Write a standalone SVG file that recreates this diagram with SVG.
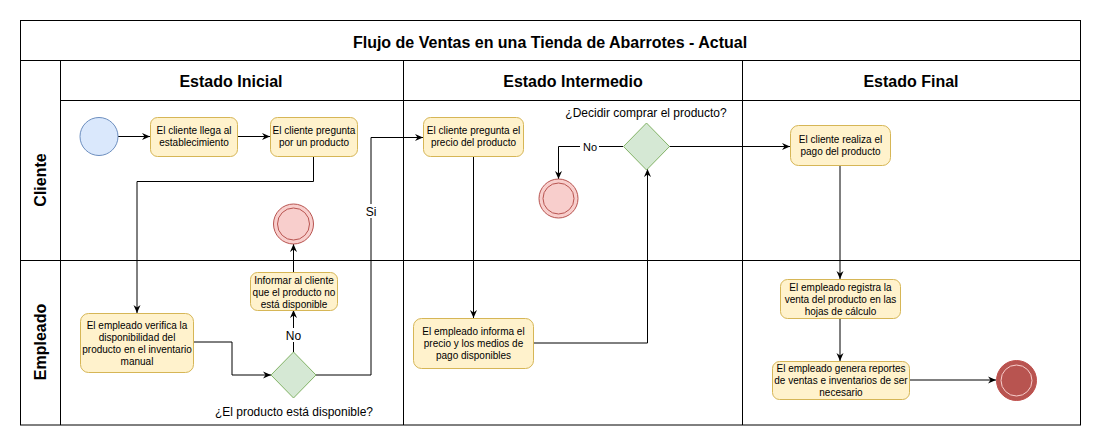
<svg xmlns="http://www.w3.org/2000/svg" width="1101" height="446" viewBox="0 0 1101 446">
<style>
.frame{fill:none;stroke:#000;stroke-width:1}
.title{font-family:"Liberation Sans",Arial,sans-serif;font-weight:bold;font-size:16px;fill:#000;text-anchor:middle}
.box{fill:#fff2cc;stroke:#d6b656;stroke-width:1}
.bt{font-family:"Liberation Sans",Arial,sans-serif;font-size:10px;fill:#000;text-anchor:middle}
.lbl{font-family:"Liberation Sans",Arial,sans-serif;font-size:12px;fill:#000;text-anchor:middle}
.dia{fill:#d5e8d4;stroke:#82b366;stroke-width:1}
.start{fill:#dae8fc;stroke:#6c8ebf;stroke-width:1}
.endo{fill:#f8cecc;stroke:#b85450;stroke-width:1}
.edge{fill:none;stroke:#000;stroke-width:1;marker-end:url(#arr)}
.edgen{fill:none;stroke:#000;stroke-width:1}
.lbg{fill:#fff}
</style>
<defs>
<marker id="arr" markerUnits="userSpaceOnUse" markerWidth="9" markerHeight="9" refX="8" refY="4" orient="auto">
<path d="M0,0.5 L8,4 L0,7.5 L2.5,4 z" fill="#000"/>
</marker>
</defs>
<rect x="0" y="0" width="1101" height="446" fill="#fff"/>
<g id="pool">
<rect class="frame" x="20.5" y="20.5" width="1060" height="404.5"/>
<line class="frame" x1="20.5" y1="60.5" x2="1080.5" y2="60.5"/>
<line class="frame" x1="60.5" y1="60.5" x2="60.5" y2="425"/>
<line class="frame" x1="60.5" y1="100.5" x2="1080.5" y2="100.5"/>
<line class="frame" x1="20.5" y1="260.5" x2="1080.5" y2="260.5"/>
<line class="frame" x1="403.5" y1="60.5" x2="403.5" y2="425"/>
<line class="frame" x1="742.5" y1="60.5" x2="742.5" y2="425"/>
<text class="title" x="550" y="47.5">Flujo de Ventas en una Tienda de Abarrotes - Actual</text>
<text class="title" x="231" y="86.5">Estado Inicial</text>
<text class="title" x="573" y="86.5">Estado Intermedio</text>
<text class="title" x="911" y="86.5">Estado Final</text>
<text class="title" transform="translate(45.5,180) rotate(-90)">Cliente</text>
<text class="title" transform="translate(45.5,342) rotate(-90)">Empleado</text>
</g>
<g id="connectors">
<path class="edge" d="M118,136.5 L150,136.5"/>
<path class="edge" d="M237,136.5 L270,136.5"/>
<path class="edge" d="M313.5,156 L313.5,181.5 L137,181.5 L137,313"/>
<path class="edge" d="M193,342 L232,342 L232,375 L271,375"/>
<path class="edge" d="M293.5,352 L293.5,310"/>
<path class="edge" d="M293.5,272 L293.5,244"/>
<path class="edge" d="M316,375 L371,375 L371,137.5 L423,137.5"/>
<path class="edge" d="M473.5,156 L473.5,318"/>
<path class="edge" d="M533,343 L647.5,343 L647.5,169"/>
<path class="edge" d="M623,146.5 L558.5,146.5 L558.5,179"/>
<path class="edge" d="M669,146.5 L790,146.5"/>
<path class="edge" d="M840,165 L840,279"/>
<path class="edge" d="M840,318 L840,361"/>
<path class="edge" d="M909,380 L996,380"/>
<rect class="lbg" x="284" y="328" width="19" height="14"/>
<text class="lbl" x="293.5" y="339.5">No</text>
<rect class="lbg" x="364" y="204" width="14" height="14"/>
<text class="lbl" x="371" y="215.5">Si</text>
<rect class="lbg" x="580" y="140" width="19" height="13"/>
<text class="lbl" x="590" y="150.5" style="font-size:11px">No</text>
</g>
<g id="start">
<circle class="start" cx="99" cy="136.5" r="19"/>
</g>
<g id="n_llega">
<rect class="box" x="150.5" y="117.5" width="87" height="39" rx="7"/>
<text class="bt" x="194" y="134">El cliente llega al</text>
<text class="bt" x="194" y="146">establecimiento</text>
</g>
<g id="n_pregunta">
<rect class="box" x="270.5" y="117.5" width="87" height="39" rx="7"/>
<text class="bt" x="314" y="134">El cliente pregunta</text>
<text class="bt" x="314" y="146">por un producto</text>
</g>
<g id="n_verifica">
<rect class="box" x="80.5" y="313.5" width="113" height="59" rx="8"/>
<text class="bt" x="137" y="329">El empleado verifica la</text>
<text class="bt" x="137" y="341">disponibilidad del</text>
<text class="bt" x="137" y="353">producto en el inventario</text>
<text class="bt" x="137" y="365">manual</text>
</g>
<g id="d_disponible">
<polygon class="dia" points="293.5,352 316,375 293.5,398 271,375"/>
<text class="lbl" x="294" y="416">¿El producto está disponible?</text>
</g>
<g id="n_informar">
<rect class="box" x="250.5" y="272.5" width="87" height="38" rx="7"/>
<text class="bt" x="294" y="283.5">Informar al cliente</text>
<text class="bt" x="294" y="295.5">que el producto no</text>
<text class="bt" x="294" y="307.5">está disponible</text>
</g>
<g id="end1">
<circle class="endo" cx="293.5" cy="224" r="20"/>
<circle class="endo" cx="293.5" cy="224" r="16"/>
</g>
<g id="n_precio">
<rect class="box" x="423.5" y="117.5" width="100" height="39" rx="7"/>
<text class="bt" x="473.5" y="134">El cliente pregunta el</text>
<text class="bt" x="473.5" y="146">precio del producto</text>
</g>
<g id="n_informa">
<rect class="box" x="413.5" y="318.5" width="120" height="50" rx="8"/>
<text class="bt" x="473.5" y="335">El empleado informa el</text>
<text class="bt" x="473.5" y="347">precio y los medios de</text>
<text class="bt" x="473.5" y="359">pago disponibles</text>
</g>
<g id="d_decidir">
<polygon class="dia" points="646.5,123 669.5,146.5 646.5,170 623.5,146.5"/>
<text class="lbl" x="646" y="117">¿Decidir comprar el producto?</text>
</g>
<g id="end2">
<circle class="endo" cx="558.5" cy="198.5" r="19.5"/>
<circle class="endo" cx="558.5" cy="198.5" r="15.5"/>
</g>
<g id="n_pago">
<rect class="box" x="790.5" y="125.5" width="100" height="40" rx="8"/>
<text class="bt" x="840.5" y="143">El cliente realiza el</text>
<text class="bt" x="840.5" y="155">pago del producto</text>
</g>
<g id="n_registra">
<rect class="box" x="780.5" y="279.5" width="120" height="39" rx="7"/>
<text class="bt" x="840.5" y="290.5">El empleado registra la</text>
<text class="bt" x="840.5" y="302.5">venta del producto en las</text>
<text class="bt" x="840.5" y="314.5">hojas de cálculo</text>
</g>
<g id="n_genera">
<rect class="box" x="772.5" y="361.5" width="137" height="38" rx="7"/>
<text class="bt" x="841" y="371.5">El empleado genera reportes</text>
<text class="bt" x="841" y="383.5">de ventas e inventarios de ser</text>
<text class="bt" x="841" y="395.5">necesario</text>
</g>
<g id="end3">
<circle cx="1016.5" cy="380.5" r="20" fill="#b85450" stroke="#c0504d"/>
<circle cx="1016.5" cy="380.5" r="15.5" fill="none" stroke="#f8cecc" stroke-width="1"/>
</g>
</svg>
